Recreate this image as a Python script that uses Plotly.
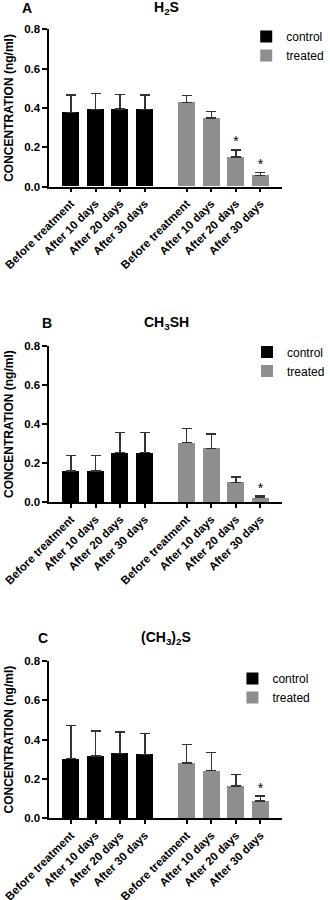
import plotly.graph_objects as go

categories = ["Before treatment", "After 10 days", "After 20 days", "After 30 days"]
groups = ["control", "treated"]

panel_letters = ["A", "B", "C"]
panel_titles = ["H<sub>2</sub>S", "CH<sub>3</sub>SH", "(CH<sub>3</sub>)<sub>2</sub>S"]

# panel A
a_control = [0.378, 0.393, 0.395, 0.393]
a_control_err = [0.087, 0.080, 0.073, 0.072]
a_treated = [0.429, 0.348, 0.151, 0.058]
a_treated_err = [0.034, 0.035, 0.036, 0.013]
a_stars = [False, False, True, True]

# panel B
b_control = [0.160, 0.160, 0.254, 0.254]
b_control_err = [0.080, 0.080, 0.104, 0.104]
b_treated = [0.305, 0.276, 0.102, 0.024]
b_treated_err = [0.074, 0.074, 0.028, 0.008]
b_stars = [False, False, False, True]

# panel C
c_control = [0.303, 0.317, 0.330, 0.325]
c_control_err = [0.168, 0.127, 0.110, 0.107]
c_treated = [0.280, 0.242, 0.164, 0.088]
c_treated_err = [0.096, 0.093, 0.058, 0.025]
c_stars = [False, False, False, True]

y_ticks = [0.0, 0.2, 0.4, 0.6, 0.8]

panels = [
    (a_control, a_control_err, a_treated, a_treated_err, a_stars),
    (b_control, b_control_err, b_treated, b_treated_err, b_stars),
    (c_control, c_control_err, c_treated, c_treated_err, c_stars),
]

W, H = 330, 900
FONT = "Arial, Liberation Sans, sans-serif"
colors = {"control": "#000000", "treated": "#8e8e8e"}

# layout geometry (pixels)
x_left_px, x_right_px = 50, 286
zero_px = [186.7, 502.3, 818.3]
top_px = [29.3, 346.0, 661.0]
legend_x_px = [250, 251, 236]
legend_mid_px = [46, 361.5, 688]
letter_pos = [(27, 8), (48, 323), (44, 638)]
title_y_px = [8, 323, 638]

group_offset = 4.7
x_control = [i for i in range(len(categories))]
x_treated = [i + group_offset for i in range(len(categories))]

fig = go.Figure()
layout = dict(
    width=W, height=H, margin=dict(l=0, r=0, t=0, b=0),
    paper_bgcolor="white", plot_bgcolor="white",
    font=dict(family=FONT, color="black"),
    bargap=0, barmode="overlay",
    annotations=[],
)

for p, (ctl, ctl_e, trt, trt_e, stars) in enumerate(panels):
    n = p + 1
    xa = "x" if n == 1 else f"x{n}"
    ya = "y" if n == 1 else f"y{n}"
    leg = "legend" if n == 1 else f"legend{n}"
    for g, xs, vals, errs in [("control", x_control, ctl, ctl_e), ("treated", x_treated, trt, trt_e)]:
        fig.add_trace(go.Bar(
            x=xs, y=vals, width=0.69, name=g, legend=leg,
            marker=dict(color=colors[g], line=dict(width=0)),
            error_y=dict(type="data", array=errs, arrayminus=[0] * len(errs), symmetric=False,
                         color="#333333", thickness=1.5, width=5),
            xaxis=xa, yaxis=ya, showlegend=True,
        ))
    sx = [x_treated[i] for i in range(len(stars)) if stars[i]]
    sy = [trt[i] + trt_e[i] for i in range(len(stars)) if stars[i]]
    fig.add_trace(go.Scatter(
        x=sx, y=sy, mode="text", text=["*"] * len(sx), textposition="top center",
        textfont=dict(family=FONT, size=14, color="black"),
        xaxis=xa, yaxis=ya, showlegend=False, hoverinfo="skip",
    ))

    ybot = 1 - zero_px[p] / H
    ytop = 1 - top_px[p] / H
    layout["xaxis" if n == 1 else f"xaxis{n}"] = dict(
        domain=[x_left_px / W, x_right_px / W],
        range=[-0.88, 8.56], anchor=ya,
        tickmode="array", tickvals=x_control + x_treated, ticktext=categories + categories,
        tickangle=-45, tickfont=dict(family=FONT, size=11.5, weight="bold", color="black"),
        ticks="outside", ticklen=4, tickwidth=1.5, tickcolor="black",
        showline=True, linecolor="black", linewidth=1.5,
        showgrid=False, zeroline=False, automargin=False, fixedrange=True,
    )
    layout["yaxis" if n == 1 else f"yaxis{n}"] = dict(
        domain=[ybot, ytop], range=[0, 0.8], anchor=xa,
        tickmode="array", tickvals=y_ticks, tickformat=".1f",
        tickfont=dict(family=FONT, size=11.5, weight="bold", color="black"),
        ticks="outside", ticklen=5, tickwidth=1.5, tickcolor="black",
        showline=True, linecolor="black", linewidth=1.5,
        showgrid=False, zeroline=False, automargin=False, fixedrange=True,
        title=dict(text="CONCENTRATION (ng/ml)", standoff=8,
                   font=dict(family=FONT, size=12, weight="bold", color="black")),
    )
    layout[leg] = dict(
        x=legend_x_px[p] / W, xanchor="left",
        y=1 - legend_mid_px[p] / H, yanchor="middle",
        bgcolor="rgba(0,0,0,0)", borderwidth=0,
        font=dict(family=FONT, size=12, color="black"),
        tracegroupgap=0,
    )
    lx, ly = letter_pos[p]
    layout["annotations"].append(dict(
        text="<b>%s</b>" % panel_letters[p], x=lx / W, y=1 - ly / H,
        xref="paper", yref="paper", xanchor="center", yanchor="middle",
        showarrow=False, font=dict(family=FONT, size=14, color="black"),
    ))
    layout["annotations"].append(dict(
        text="<b>%s</b>" % panel_titles[p], x=169 / W, y=1 - title_y_px[p] / H,
        xref="paper", yref="paper", xanchor="center", yanchor="middle",
        showarrow=False, font=dict(family=FONT, size=14, color="black"),
    ))

fig.update_layout(**layout)
fig.write_html("out.html")
